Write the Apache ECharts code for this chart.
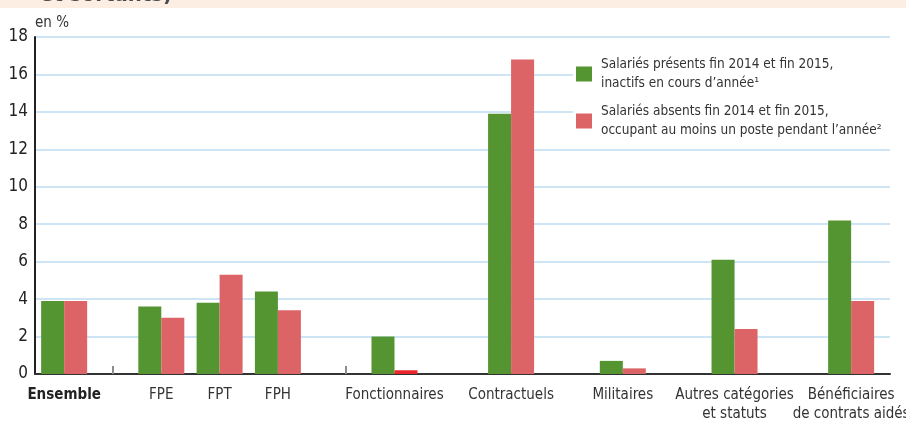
<!DOCTYPE html>
<html>
<head>
<meta charset="utf-8">
<script src="https://cdn.jsdelivr.net/npm/echarts@6/dist/echarts.min.js"></script>
<style>
html,body{margin:0;padding:0;background:#fff;}
#chart{width:906px;height:423px;}
</style>
</head>
<body>
<div id="chart"></div>
<script>
// ---- data ----
const categories = ['Ensemble', 'FPE', 'FPT', 'FPH', 'Fonctionnaires', 'Contractuels', 'Militaires', 'Autres catégories\net statuts', 'Bénéficiaires\nde contrats aidés'];
const inactifs = [3.9, 3.6, 3.8, 4.4, 2.0, 13.9, 0.7, 6.1, 8.2];
const absents = [3.9, 3.0, 5.3, 3.4, 0.2, 16.8, 0.3, 2.4, 3.9];
const seriesNames = ['Salariés présents fin 2014 et fin 2015,\ninactifs en cours d’année¹', 'Salariés absents fin 2014 et fin 2015,\noccupant au moins un poste pendant l’année²'];
const yTicks = [0, 2, 4, 6, 8, 10, 12, 14, 16, 18];

// ---- layout (slot positions along the category axis) ----
const totalSlots = 177;
const slotIndex = [6, 26, 38, 50, 74, 98, 121, 144, 168];
const separatorSlots = [16, 64];

const FONT = '"Liberation Sans Narrow", "DejaVu Sans Condensed", "Roboto Condensed", sans-serif';
const GREEN = '#549431';
const RED = '#dc6466';
const BRIGHT_RED = '#e8262b';

const xData = [];
for (let i = 0; i < totalSlots; i++) xData.push('#' + i);
slotIndex.forEach((s, k) => { xData[s] = categories[k]; });

const greenData = new Array(totalSlots).fill('-');
const redData = new Array(totalSlots).fill('-');
slotIndex.forEach((s, k) => {
  greenData[s] = inactifs[k];
  redData[s] = categories[k] === 'Fonctionnaires'
    ? { value: absents[k], itemStyle: { color: BRIGHT_RED } }
    : absents[k];
});

const chart = echarts.init(document.getElementById('chart'), null, { renderer: 'canvas' });
chart.setOption({
  animation: false,
  backgroundColor: '#fff',
  textStyle: { fontFamily: FONT },
  grid: { left: 35, right: 16, top: 37, bottom: 49, containLabel: false, outerBoundsMode: 'none' },
  legend: {
    orient: 'vertical',
    left: 573,
    top: 49,
    padding: [6, 30, 6, 3],
    backgroundColor: '#fff',
    itemWidth: 16,
    itemHeight: 15,
    itemGap: 9,
    icon: 'rect',
    data: seriesNames,
    textStyle: { fontFamily: FONT, fontSize: 13.5, lineHeight: 19, color: '#333', padding: [0, 0, 0, 4] }
  },
  xAxis: {
    type: 'category',
    data: xData,
    boundaryGap: false,
    axisLine: { lineStyle: { color: '#333', width: 2 } },
    axisTick: {
      show: true,
      inside: true,
      length: 8,
      interval: (idx) => separatorSlots.indexOf(idx) >= 0,
      lineStyle: { color: '#8c8c8c', width: 2 }
    },
    axisLabel: {
      interval: 0,
      margin: 12,
      color: '#333',
      fontFamily: FONT,
      fontSize: 15,
      lineHeight: 19,
      formatter: (v) => v.charAt(0) === '#' ? '' : (v === 'Ensemble' ? '{b|' + v + '}' : v),
      rich: { b: { fontWeight: 'bold', fontFamily: FONT, fontSize: 15, color: '#222' } }
    },
    splitLine: { show: false }
  },
  yAxis: {
    type: 'value',
    min: yTicks[0],
    max: yTicks[yTicks.length - 1],
    interval: 2,
    axisLine: { show: true, lineStyle: { color: '#222', width: 2 } },
    axisTick: { show: false },
    axisLabel: { color: '#222', fontFamily: FONT, fontSize: 17, margin: 7, padding: [3, 0, 0, 0] },
    splitLine: { lineStyle: { color: '#bcdcf0', width: 1.5 } }
  },
  series: [
    { name: seriesNames[0], type: 'bar', data: greenData, barWidth: 23, barGap: '0%', itemStyle: { color: GREEN } },
    { name: seriesNames[1], type: 'bar', data: redData, barWidth: 23, barGap: '0%', itemStyle: { color: RED } }
  ],
  graphic: [
    { type: 'rect', left: 0, top: 0, shape: { width: 906, height: 8 }, style: { fill: '#fdeee3' }, z: -1 },
    { type: 'text', x: 40, y: 6, style: { text: 'et sortants)', fontFamily: FONT, fontWeight: 'bold', fontSize: 22, fill: '#4a4a4a', textVerticalAlign: 'bottom' } },
    { type: 'text', x: 35, y: 23, style: { text: 'en %', fontFamily: FONT, fontSize: 15, fill: '#333', textVerticalAlign: 'middle' } }
  ]
});
</script>
</body>
</html>
